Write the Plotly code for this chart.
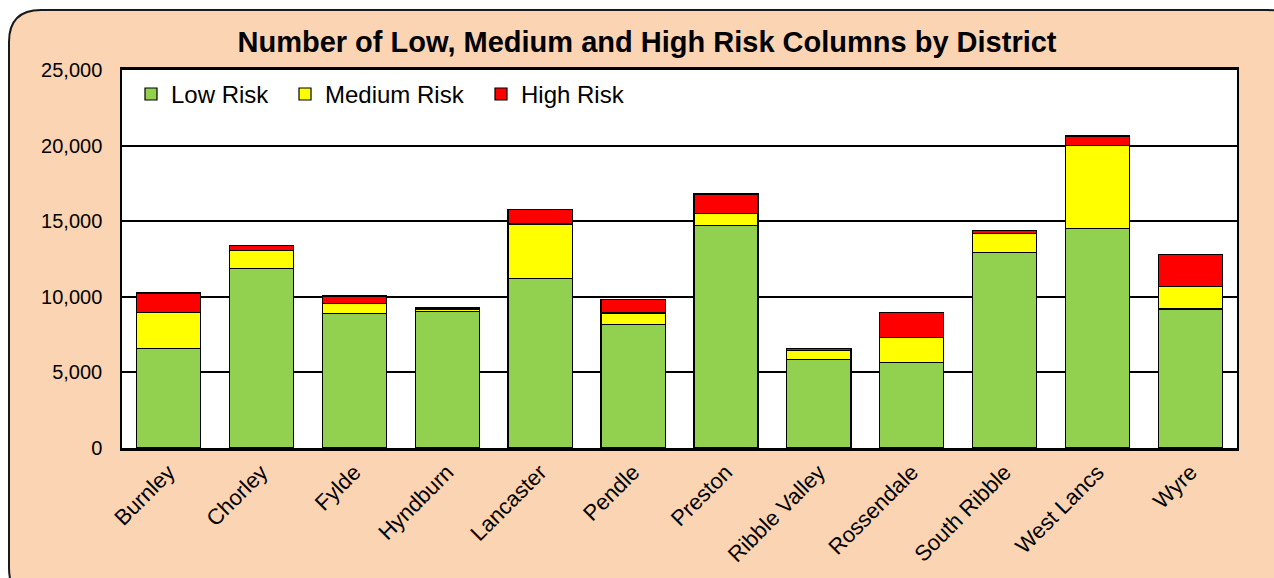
import plotly.graph_objects as go

districts = ["Burnley", "Chorley", "Fylde", "Hyndburn", "Lancaster", "Pendle",
             "Preston", "Ribble Valley", "Rossendale", "South Ribble", "West Lancs", "Wyre"]
low_risk = [6570, 11870, 8880, 9010, 11220, 8150, 14720, 5870, 5640, 12940, 14500, 9190]
medium_risk = [2390, 1210, 660, 150, 3590, 780, 800, 570, 1660, 1230, 5490, 1500]
high_risk = [1290, 310, 510, 100, 960, 880, 1280, 130, 1660, 220, 640, 2100]
y_ticks = [0, 5000, 10000, 15000, 20000, 25000]

W, H = 1274, 578
L, R, T, B = 122, 1237, 70, 448
FONT = "Arial, Liberation Sans, sans-serif"
PEACH = "#FBD4B4"


def px(x):
    return (x - L) / (R - L)


def py(y):
    return (B - y) / (B - T)


def rounded_rect(x0, y0, x1, y1, r):
    pts = [
        f"M {px(x0 + r)},{py(y0)}",
        f"L {px(x1 - r)},{py(y0)}",
        f"Q {px(x1)},{py(y0)} {px(x1)},{py(y0 + r)}",
        f"L {px(x1)},{py(y1 - r)}",
        f"Q {px(x1)},{py(y1)} {px(x1 - r)},{py(y1)}",
        f"L {px(x0 + r)},{py(y1)}",
        f"Q {px(x0)},{py(y1)} {px(x0)},{py(y1 - r)}",
        f"L {px(x0)},{py(y0 + r)}",
        f"Q {px(x0)},{py(y0)} {px(x0 + r)},{py(y0)}",
        "Z",
    ]
    return " ".join(pts)


series = [("Low Risk", low_risk, "#92D050", "legend"),
          ("Medium Risk", medium_risk, "#FFFF00", "legend2"),
          ("High Risk", high_risk, "#FF0000", "legend3")]

fig = go.Figure()
for name, vals, col, leg in series:
    fig.add_trace(go.Bar(
        x=districts, y=vals, name=name, legend=leg,
        marker=dict(color=col, line=dict(color="#000000", width=1.2)),
    ))


def legend_at(x_px):
    return dict(orientation="h", x=px(x_px - 14), y=0.995, xanchor="left", yanchor="top",
                bgcolor="rgba(0,0,0,0)", font=dict(family=FONT, size=24),
                itemwidth=30, itemclick=False)


fig.update_layout(
    width=W, height=H,
    barmode="stack", bargap=0.31,
    paper_bgcolor="white", plot_bgcolor="white",
    margin=dict(l=L, r=W - R, t=T, b=H - B, autoexpand=False),
    font=dict(family=FONT, size=20, color="#000000"),
    title=dict(text="<b>Number of Low, Medium and High Risk Columns by District</b>",
               font=dict(family=FONT, size=29, color="#000000"),
               x=647 / W, xanchor="center", xref="container",
               y=1 - 42 / H, yanchor="middle", yref="container"),
    legend=legend_at(145),
    legend2=legend_at(299),
    legend3=legend_at(495),
    showlegend=True,
    xaxis=dict(tickangle=-45, showline=True, linecolor="#000000", linewidth=2.5,
               mirror=True, ticks="", tickfont=dict(family=FONT, size=22)),
    yaxis=dict(range=[0, 25000], tickvals=y_ticks, tickformat=",",
               showgrid=True, gridcolor="#000000", gridwidth=2,
               showline=True, linecolor="#000000", linewidth=1.5, mirror=True,
               ticks="", ticklabelstandoff=14, zeroline=False,
               tickfont=dict(family=FONT, size=20)),
    shapes=[
        dict(type="path", xref="paper", yref="paper", layer="below",
             path=rounded_rect(9, 10, 1300, 600, 32),
             fillcolor=PEACH, line=dict(color="#1a1a1a", width=2)),
        dict(type="rect", xref="paper", yref="paper", layer="below",
             x0=0, x1=1, y0=0, y1=1, fillcolor="white", line=dict(width=0)),
    ],
)

fig.write_html("out.html")
